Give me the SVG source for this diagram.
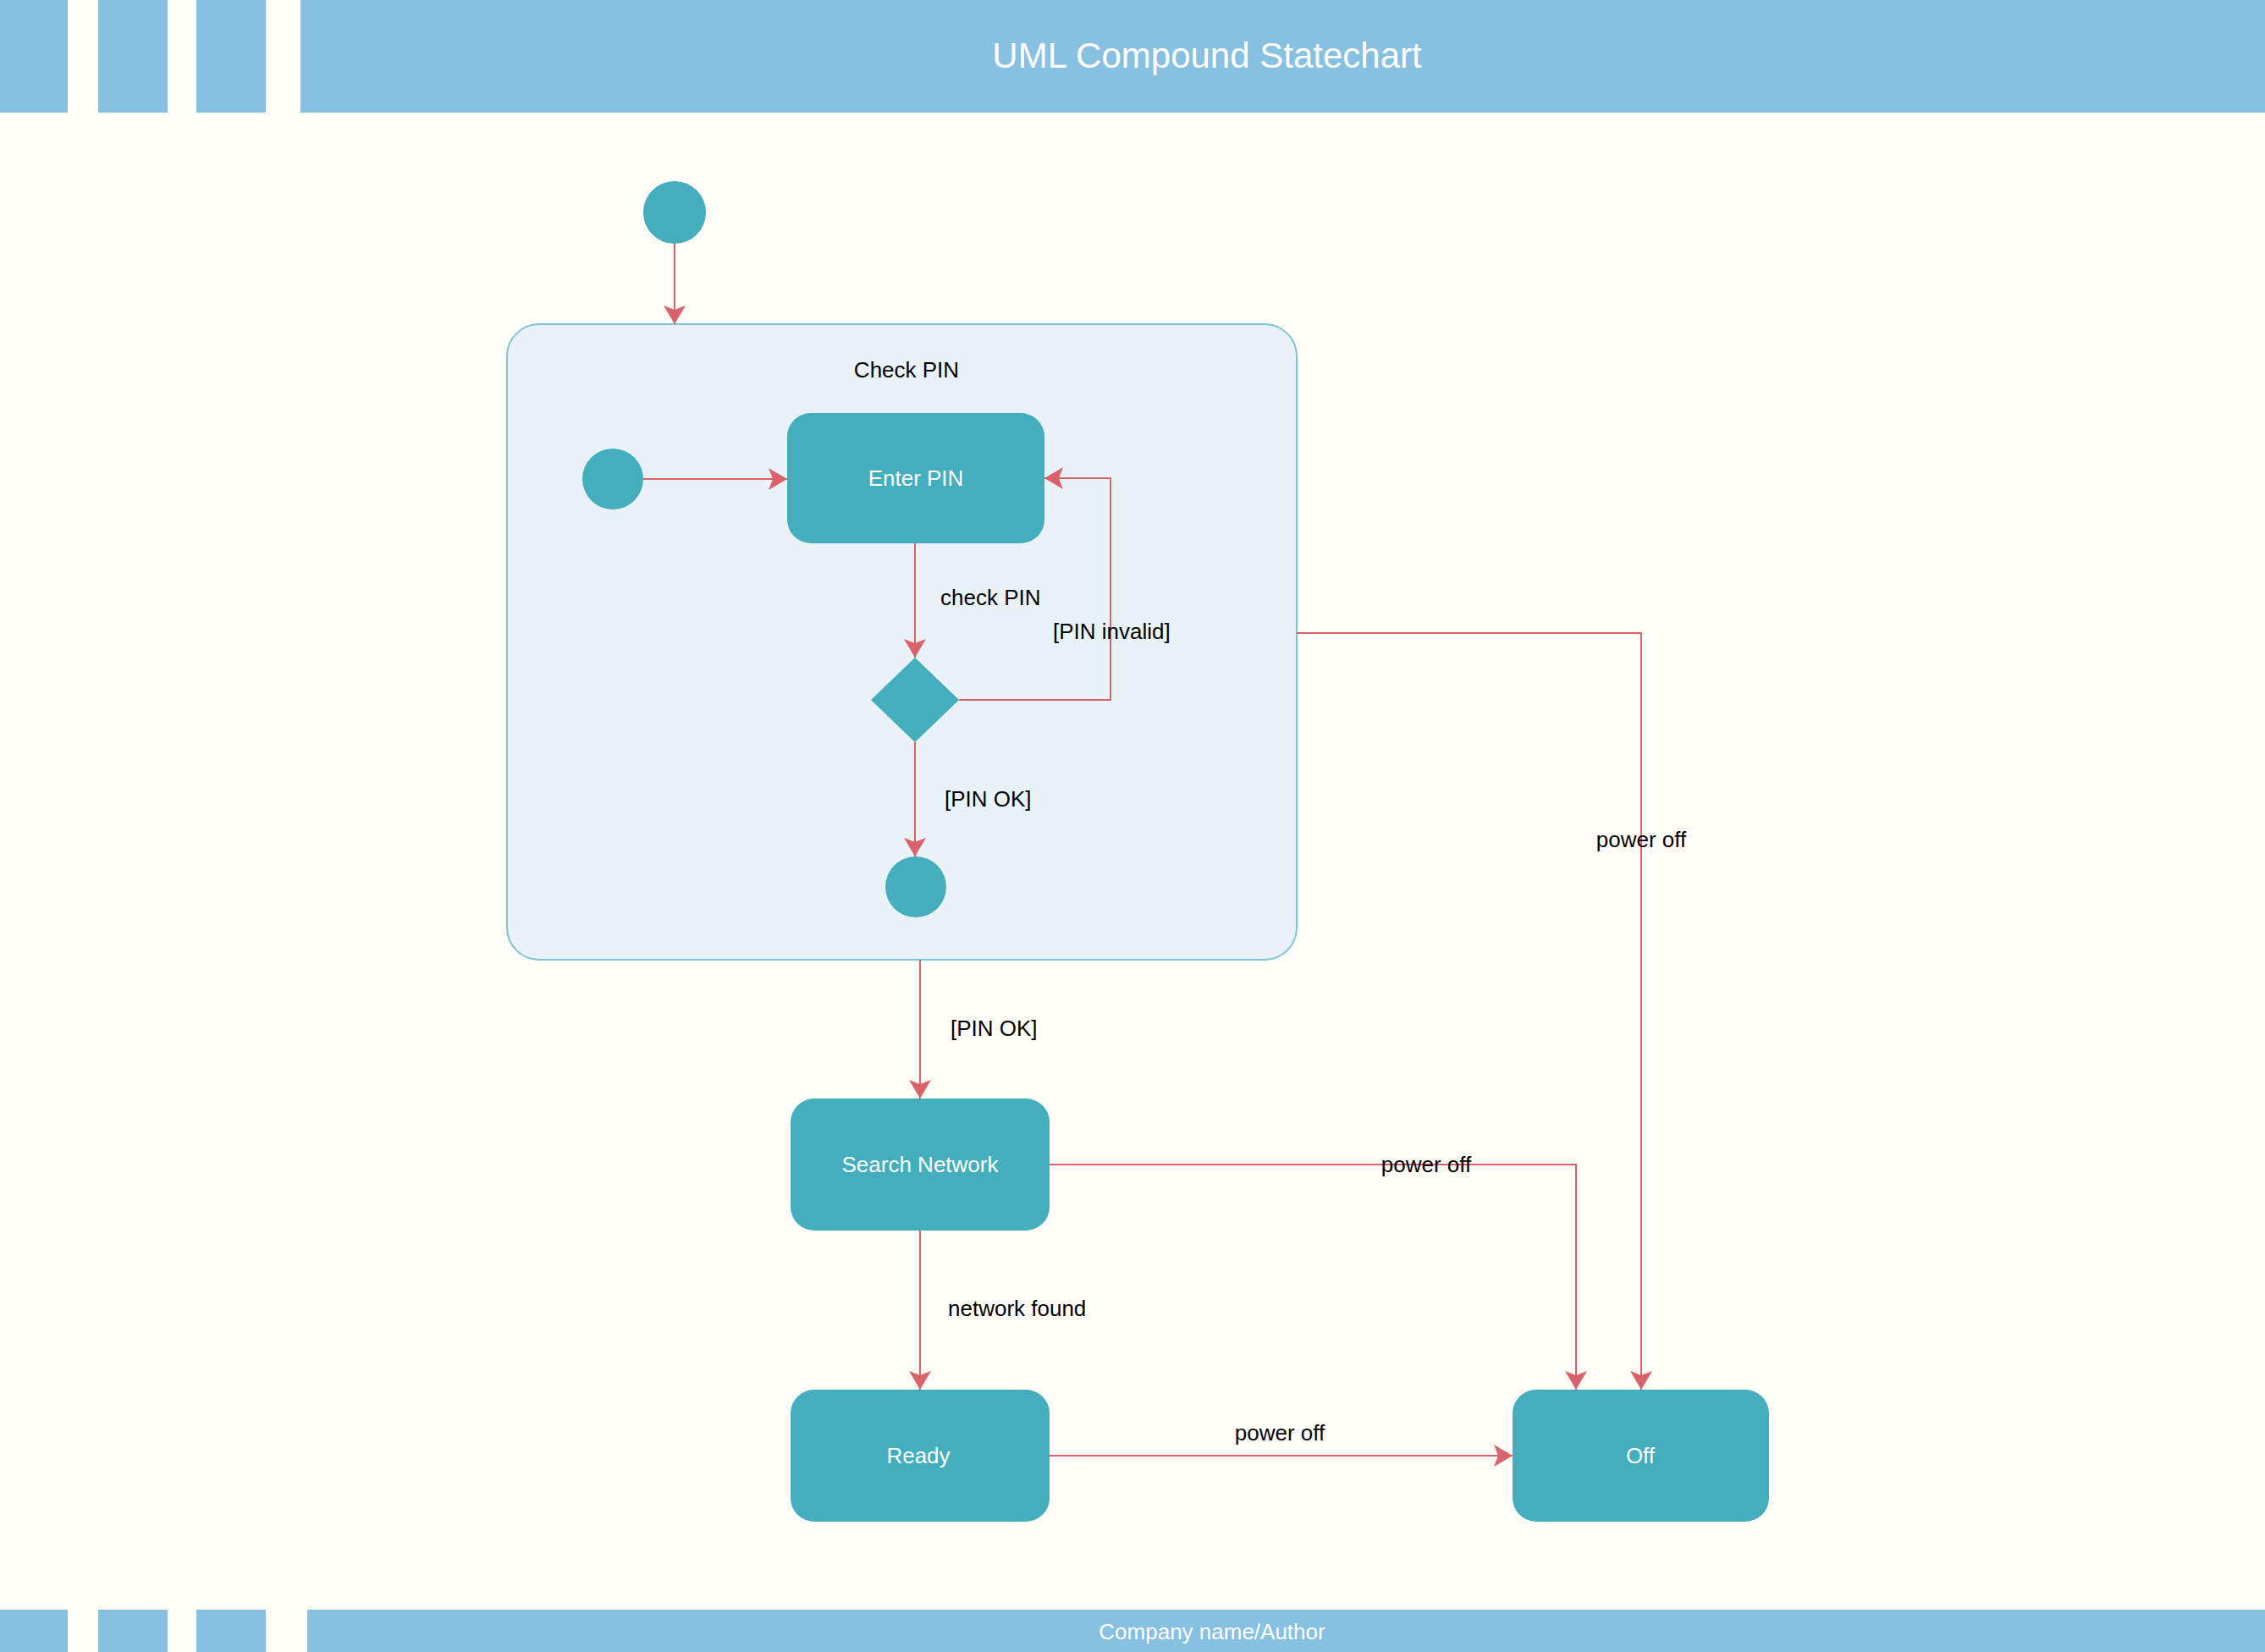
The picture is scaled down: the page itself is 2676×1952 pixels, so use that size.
<svg xmlns="http://www.w3.org/2000/svg" width="2676" height="1952" viewBox="0 0 2676 1952">
<style>
.band{fill:#87C0E1}
.state{fill:#45AEBD}
.lbl{font-family:"Liberation Sans",Arial,sans-serif;font-size:26px;fill:#000}
.wt{font-family:"Liberation Sans",Arial,sans-serif;font-size:26px;fill:#fff;text-anchor:middle}
.edge{fill:none;stroke:#D9626B;stroke-width:2}
</style>
<defs>
<marker id="arr" viewBox="-24 -15 26 30" refX="0" refY="0" markerWidth="26" markerHeight="30" markerUnits="userSpaceOnUse" orient="auto">
<path d="M0,0 L-22,-13 L-17,0 L-22,13 Z" fill="#D9626B"/>
</marker>
</defs>
<rect x="0" y="0" width="2676" height="1952" fill="#FEFDF8"/>
<g id="header">
<rect class="band" x="0" y="0" width="80" height="133"/>
<rect class="band" x="116" y="0" width="82" height="133"/>
<rect class="band" x="232" y="0" width="82" height="133"/>
<rect class="band" x="355" y="0" width="2321" height="133"/>
<text x="1426" y="80" font-family="'Liberation Sans',Arial,sans-serif" font-size="42" fill="#fff" text-anchor="middle">UML Compound Statechart</text>
</g>
<g id="footer">
<rect class="band" x="0" y="1902" width="80" height="50"/>
<rect class="band" x="116" y="1902" width="82" height="50"/>
<rect class="band" x="232" y="1902" width="82" height="50"/>
<rect class="band" x="363" y="1902" width="2313" height="50"/>
<text class="wt" x="1432" y="1937">Company name/Author</text>
</g>
<g id="check-pin">
<rect x="599" y="383" width="933" height="751" rx="38" ry="38" fill="#E8F2F7" stroke="#7EC3D6" stroke-width="2"/>
<text class="lbl" x="1071" y="446" text-anchor="middle">Check PIN</text>
</g>
<g id="initial"><circle class="state" cx="797" cy="251" r="37"/></g>
<g id="inner-initial"><circle class="state" cx="724" cy="566" r="36"/></g>
<g id="enter-pin">
<rect class="state" x="930" y="488" width="304" height="154" rx="28" ry="28"/>
<text class="wt" x="1082" y="574">Enter PIN</text>
</g>
<g id="decision"><polygon class="state" points="1081,777 1133,827 1081,877 1029,827"/></g>
<g id="inner-final"><circle class="state" cx="1082" cy="1048" r="36"/></g>
<g id="search-network">
<rect class="state" x="934" y="1298" width="306" height="156" rx="28" ry="28"/>
<text class="wt" x="1087" y="1385">Search Network</text>
</g>
<g id="ready">
<rect class="state" x="934" y="1642" width="306" height="156" rx="28" ry="28"/>
<text class="wt" x="1085" y="1729">Ready</text>
</g>
<g id="off">
<rect class="state" x="1787" y="1642" width="303" height="156" rx="28" ry="28"/>
<text class="wt" x="1938" y="1729">Off</text>
</g>
<g id="connectors">
<path class="edge" d="M797,288 L797,383" marker-end="url(#arr)"/>
<path class="edge" d="M760,566 L930,566" marker-end="url(#arr)"/>
<path class="edge" d="M1081,642 L1081,777" marker-end="url(#arr)"/>
<path class="edge" d="M1133,827 L1312,827 L1312,565 L1234,565" marker-end="url(#arr)"/>
<path class="edge" d="M1081,877 L1081,1012" marker-end="url(#arr)"/>
<path class="edge" d="M1087,1134 L1087,1298" marker-end="url(#arr)"/>
<path class="edge" d="M1532,748 L1939,748 L1939,1642" marker-end="url(#arr)"/>
<path class="edge" d="M1240,1376 L1862,1376 L1862,1642" marker-end="url(#arr)"/>
<path class="edge" d="M1087,1454 L1087,1642" marker-end="url(#arr)"/>
<path class="edge" d="M1240,1720 L1787,1720" marker-end="url(#arr)"/>
<text class="lbl" x="1111" y="715">check PIN</text>
<text class="lbl" x="1244" y="755">[PIN invalid]</text>
<text class="lbl" x="1116" y="953">[PIN OK]</text>
<text class="lbl" x="1123" y="1224">[PIN OK]</text>
<text class="lbl" x="1120" y="1555">network found</text>
<text class="lbl" x="1939" y="1001" text-anchor="middle">power off</text>
<text class="lbl" x="1685" y="1385" text-anchor="middle">power off</text>
<text class="lbl" x="1512" y="1702" text-anchor="middle">power off</text>
</g>
</svg>
